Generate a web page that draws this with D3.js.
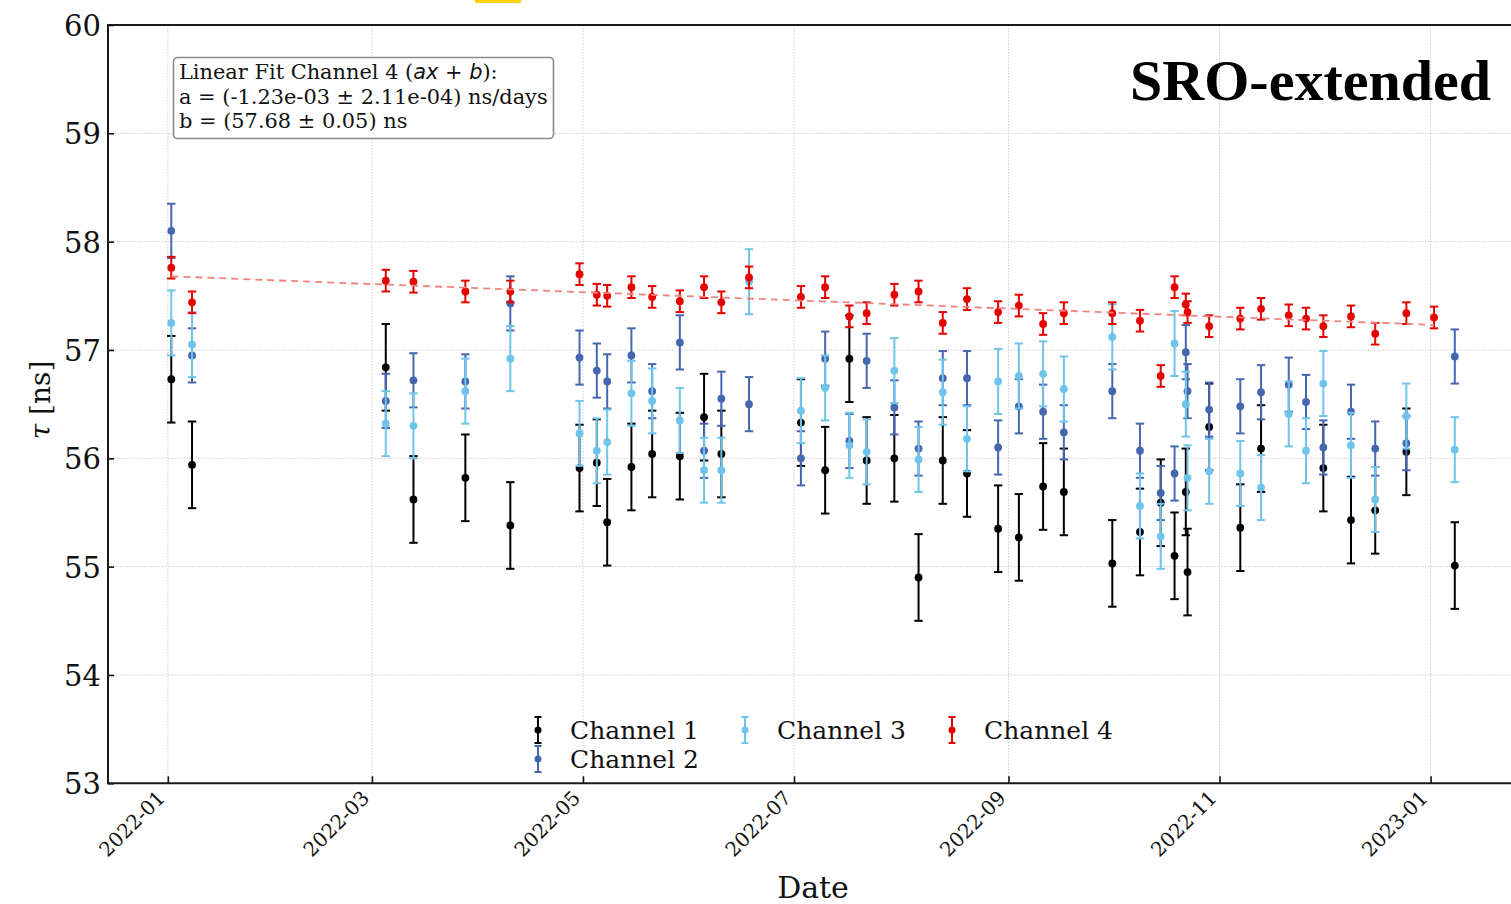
<!DOCTYPE html>
<html><head><meta charset="utf-8">
<script src="https://cdn.jsdelivr.net/npm/d3@7"></script>
<style>
body{margin:0;background:#fff;}
svg{display:block;}
</style></head><body>
<svg id="chart" width="1511" height="904"></svg>
<script>
// ---------------- data ----------------
const dates = ["2022-01-02","2022-01-08","2022-03-05","2022-03-13","2022-03-28","2022-04-10","2022-04-30","2022-05-05","2022-05-08","2022-05-15","2022-05-21","2022-05-29","2022-06-05","2022-06-10","2022-06-18","2022-07-03","2022-07-10","2022-07-17","2022-07-22","2022-07-30","2022-08-06","2022-08-13","2022-08-20","2022-08-29","2022-09-04","2022-09-11","2022-09-17","2022-10-01","2022-10-09","2022-10-15","2022-10-19","2022-10-22 06:00","2022-10-22 18:00","2022-10-29","2022-11-07","2022-11-13","2022-11-21","2022-11-26","2022-12-01","2022-12-09","2022-12-16","2022-12-25","2023-01-02","2023-01-08"];
const ch1 = [56.73,55.94,56.84,55.62,55.82,55.38,55.91,55.96,55.41,55.92,56.04,56.02,56.38,56.04,null,56.33,55.89,56.92,55.98,56.00,54.90,55.98,55.86,55.35,55.27,55.74,55.69,55.03,55.32,55.59,55.10,55.69,54.95,56.29,55.36,56.09,null,null,55.91,55.43,55.52,56.06,null,55.01];
const ch2 = [58.10,56.95,56.53,56.72,56.71,57.43,56.93,56.81,56.71,56.95,56.62,57.07,56.07,56.55,56.50,56.00,56.92,56.16,56.90,56.47,56.09,56.74,56.74,56.10,56.48,56.43,56.24,56.62,56.07,55.68,55.86,56.98,56.62,56.45,56.48,56.61,56.68,56.52,56.10,56.43,56.09,56.14,null,56.94];
const ch3 = [57.25,57.05,56.32,56.30,56.62,56.92,56.23,56.07,56.15,56.60,56.53,56.35,55.89,55.89,57.63,56.44,56.65,56.12,56.06,56.81,55.99,56.61,56.18,56.71,56.76,56.78,56.64,57.12,55.56,55.28,57.06,56.50,55.82,55.88,55.86,55.73,56.41,56.07,56.69,56.12,55.62,56.39,null,56.08];
const ch4 = [57.76,57.44,57.64,57.63,57.54,57.54,57.70,57.51,57.50,57.58,57.49,57.45,57.58,57.44,57.67,57.49,57.58,57.31,57.34,57.51,57.54,57.25,57.47,57.35,57.41,57.24,57.34,57.34,57.27,56.76,57.58,57.42,57.35,57.22,57.29,57.38,57.32,57.29,57.22,57.31,57.15,57.34,57.30,null];
const errors = [0.40, 0.25, 0.30, 0.10];   // ± uncertainty per channel (ns)
const seriesNames = ["Channel 1","Channel 2","Channel 3","Channel 4"];
const fitA = -1.23e-3;   // ns/day
const fitB = 57.68;      // ns
const yTicks = [53,54,55,56,57,58,59,60];
const xDomain = ["2021-12-14 17:00","2023-01-25 00:00"];
const fitLines = ["Linear Fit Channel 4 (ax + b):",
                  "a = (-1.23e-03 \u00b1 2.11e-04) ns/days",
                  "b = (57.68 \u00b1 0.05) ns"];

// ---------------- setup ----------------
const colors = ["#000000","#4567b0","#6ec4ea","#e60000"];
const fitColor = "#f08282";
const W = 1511, H = 904;
const plot = {left:108, top:25, bottom:783.3, right:1513.6};
const serif = "'DejaVu Serif', serif";

const p1 = d3.timeParse("%Y-%m-%d %H:%M"), p2 = d3.timeParse("%Y-%m-%d");
const parse = s => p1(s) || p2(s);
const dts = dates.map(parse);

const svg = d3.select("#chart");
svg.append("rect").attr("width",W).attr("height",H).attr("fill","#fff");

const x = d3.scaleTime().domain(xDomain.map(parse)).range([plot.left, plot.right]);
const y = d3.scaleLinear().domain([53,60]).range([plot.bottom, plot.top]);
const xTickVals = d3.timeMonth.every(2).range(x.domain()[0], x.domain()[1]);

// grid
const grid = svg.append("g").attr("stroke","#cfcfcf").attr("stroke-width",1).attr("stroke-dasharray","1.5,1.5");
grid.selectAll("line.gy").data(yTicks.slice(1,-1)).join("line")
  .attr("x1",plot.left).attr("x2",W).attr("y1",d=>y(d)).attr("y2",d=>y(d));
grid.selectAll("line.gx").data(xTickVals).join("line")
  .attr("x1",d=>x(d)).attr("x2",d=>x(d)).attr("y1",plot.top).attr("y2",plot.bottom);

// axes
const yAxis = svg.append("g").attr("transform",`translate(${plot.left},0)`)
  .call(d3.axisLeft(y).tickValues(yTicks).tickFormat(d3.format("d")).tickSize(-6).tickPadding(7));
yAxis.select(".domain").remove();
yAxis.selectAll(".tick line").attr("stroke","#111").attr("stroke-width",1.6);
yAxis.selectAll("text").attr("font-family",serif).attr("font-size",29).attr("fill","#111").attr("dy","0.36em");

const xAxis = svg.append("g").attr("transform",`translate(0,${plot.bottom})`)
  .call(d3.axisBottom(x).tickValues(xTickVals).tickFormat(d3.timeFormat("%Y-%m")).tickSize(-7));
xAxis.select(".domain").remove();
xAxis.selectAll(".tick line").attr("stroke","#111").attr("stroke-width",1.6);
xAxis.selectAll("text").attr("font-family",serif).attr("font-size",20).attr("fill","#111")
  .attr("text-anchor","end").attr("dy",0).attr("y",0)
  .attr("transform","translate(-2,16) rotate(-45)");

// spines
const sp = svg.append("g").attr("stroke","#1a1a1a").attr("stroke-width",2).attr("fill","none");
sp.append("line").attr("x1",plot.left).attr("x2",plot.left).attr("y1",plot.top-1).attr("y2",plot.bottom+1);
sp.append("line").attr("x1",plot.left).attr("x2",W).attr("y1",plot.bottom).attr("y2",plot.bottom);
sp.append("line").attr("x1",plot.left).attr("x2",W).attr("y1",plot.top).attr("y2",plot.top);

// data series
const all = [ch1,ch2,ch3,ch4];
const capW = 4.2;
all.forEach((vals,i)=>{
  const pts = vals.map((v,j)=>({d:dts[j], v})).filter(p=>p.v!=null);
  const g = svg.append("g").attr("stroke",colors[i]).attr("stroke-width",2);
  const e = errors[i];
  g.selectAll("line.bar").data(pts).join("line")
    .attr("x1",p=>x(p.d)).attr("x2",p=>x(p.d)).attr("y1",p=>y(p.v-e)).attr("y2",p=>y(p.v+e));
  g.selectAll("line.capT").data(pts).join("line")
    .attr("x1",p=>x(p.d)-capW).attr("x2",p=>x(p.d)+capW).attr("y1",p=>y(p.v+e)).attr("y2",p=>y(p.v+e));
  g.selectAll("line.capB").data(pts).join("line")
    .attr("x1",p=>x(p.d)-capW).attr("x2",p=>x(p.d)+capW).attr("y1",p=>y(p.v-e)).attr("y2",p=>y(p.v-e));
  svg.append("g").selectAll("circle").data(pts).join("circle")
    .attr("cx",p=>x(p.d)).attr("cy",p=>y(p.v)).attr("r",3.9).attr("fill",colors[i]);
});

// linear fit
const ch4Dates = dts.filter((d,j)=>ch4[j]!=null);
const t0 = ch4Dates[0], t1 = ch4Dates[ch4Dates.length-1];
const fitVal = t => fitB + fitA*((t - t0)/864e5);
svg.append("line").attr("x1",x(t0)).attr("x2",x(t1)).attr("y1",y(fitVal(t0))).attr("y2",y(fitVal(t1)))
  .attr("stroke",fitColor).attr("stroke-width",1.8).attr("stroke-dasharray","7,5");

// fit annotation box
const box = svg.append("g");
box.append("rect").attr("x",173.5).attr("y",57.5).attr("width",380).attr("height",81).attr("rx",4)
  .attr("fill","#fff").attr("stroke","#8a8a8a").attr("stroke-width",1.6);
const bt = box.append("g").attr("font-family",serif).attr("font-size",20.9).attr("fill","#111");
const l1 = bt.append("text").attr("x",179).attr("y",79);
l1.append("tspan").text("Linear Fit Channel 4 (");
l1.append("tspan").attr("font-style","italic").attr("font-family","'DejaVu Sans', sans-serif").text("ax");
l1.append("tspan").text(" + ");
l1.append("tspan").attr("font-style","italic").attr("font-family","'DejaVu Sans', sans-serif").text("b");
l1.append("tspan").text("):");
bt.append("text").attr("x",179).attr("y",103.5).text(fitLines[1]);
bt.append("text").attr("x",179).attr("y",128).text(fitLines[2]);

// title stamp
svg.append("text").attr("x",1491).attr("y",100).attr("text-anchor","end")
  .attr("font-family","'Liberation Serif', serif").attr("font-weight","bold").attr("font-size",58)
  .attr("fill","#000").text("SRO-extended");
svg.append("rect").attr("x",475).attr("y",0).attr("width",46).attr("height",3).attr("fill","#ffd200");

// axis labels
svg.append("text").attr("x",813).attr("y",898).attr("text-anchor","middle")
  .attr("font-family",serif).attr("font-size",30).attr("fill","#111").text("Date");
const yl = svg.append("text").attr("transform","translate(50,400) rotate(-90)").attr("text-anchor","middle")
  .attr("font-family",serif).attr("font-size",28).attr("fill","#111");
yl.append("tspan").attr("font-style","italic").text("\u03c4");
yl.append("tspan").text(" [ns]");

// legend (matplotlib ncol=3, column-major)
const legPos = [[538,730],[538,759],[745,730],[952,730]];
seriesNames.forEach((name,i)=>{
  const [lx,ly] = legPos[i];
  const g = svg.append("g");
  g.append("line").attr("x1",lx).attr("x2",lx).attr("y1",ly-13).attr("y2",ly+13).attr("stroke",colors[i]).attr("stroke-width",2);
  g.append("line").attr("x1",lx-3.5).attr("x2",lx+3.5).attr("y1",ly-13).attr("y2",ly-13).attr("stroke",colors[i]).attr("stroke-width",2);
  g.append("line").attr("x1",lx-3.5).attr("x2",lx+3.5).attr("y1",ly+13).attr("y2",ly+13).attr("stroke",colors[i]).attr("stroke-width",2);
  g.append("circle").attr("cx",lx).attr("cy",ly).attr("r",3.5).attr("fill",colors[i]);
  g.append("text").attr("x",lx+32).attr("y",ly+9).attr("font-family",serif).attr("font-size",25)
    .attr("fill","#111").text(name);
});
</script>
</body></html>
